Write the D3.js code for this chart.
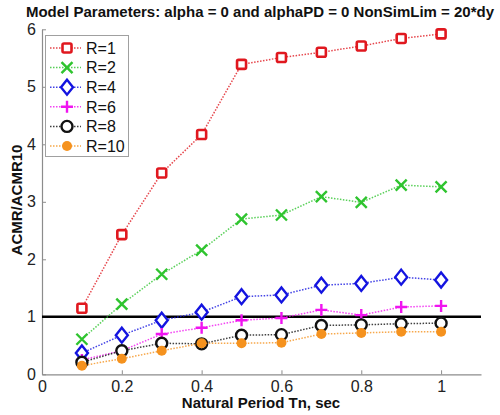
<!DOCTYPE html>
<html>
<head>
<meta charset="utf-8">
<script src="https://cdn.jsdelivr.net/npm/d3@7"></script>
<style>
  html, body { margin: 0; padding: 0; background: #fff; }
  svg { display: block; font-family: "Liberation Sans", Arial, sans-serif; }
</style>
</head>
<body>
<svg id="chart" width="500" height="415"></svg>
<script>
// Natural periods (sec)
const periods = [0.1, 0.2, 0.3, 0.4, 0.5, 0.6, 0.7, 0.8, 0.9, 1.0];

// ACMR / ACMR10 ratio for each R factor
const r1  = [1.15, 2.43, 3.50, 4.17, 5.39, 5.51, 5.60, 5.71, 5.84, 5.92];
const r2  = [0.61, 1.22, 1.74, 2.16, 2.70, 2.77, 3.09, 2.99, 3.29, 3.26];
const r4  = [0.37, 0.68, 0.94, 1.08, 1.35, 1.38, 1.55, 1.58, 1.69, 1.64];
const r6  = [0.25, 0.41, 0.70, 0.81, 0.94, 0.98, 1.12, 1.03, 1.17, 1.19];
const r8  = [0.21, 0.41, 0.54, 0.53, 0.68, 0.69, 0.85, 0.86, 0.88, 0.89];
const r10 = [0.15, 0.27, 0.41, 0.54, 0.54, 0.55, 0.70, 0.72, 0.74, 0.74];

const seriesNames = ["R=1", "R=2", "R=4", "R=6", "R=8", "R=10"];
const seriesValues = [r1, r2, r4, r6, r8, r10];

const xTicks = [0, 0.2, 0.4, 0.6, 0.8, 1];
const yTicks = [0, 1, 2, 3, 4, 5, 6];
const referenceLevel = 1;

const colors  = ["#e0181f", "#2fc42f", "#1414e0", "#f014f0", "#111111", "#f5921e"];
const markers = ["square", "cross", "diamond", "plus", "circle", "dot"];

const svg = d3.select("#chart");
const x = d3.scaleLinear().domain([0, 1.1]).range([42, 481]);
const y = d3.scaleLinear().domain([0, 6]).range([374.3, 29.3]);

// Axes (ticks pointing inward)
const axisColor = "#8c8c8c";
const fmt = d3.format("~g");
const gx = svg.append("g").attr("transform", `translate(0,${y(0)})`)
  .call(d3.axisBottom(x).tickValues(xTicks).tickSizeInner(-4).tickSizeOuter(0).tickFormat(fmt));
const gy = svg.append("g").attr("transform", `translate(${x(0)},0)`)
  .call(d3.axisLeft(y).tickValues(yTicks).tickSizeInner(-4).tickSizeOuter(0).tickFormat(fmt));
[gx, gy].forEach(g => {
  g.select(".domain").attr("stroke", axisColor).attr("stroke-width", 1.2);
  g.selectAll(".tick line").attr("stroke", axisColor);
  g.selectAll(".tick text").attr("fill", "#222").attr("font-size", 16)
    .attr("font-family", "Liberation Sans, Arial, sans-serif");
});
gx.selectAll(".tick text").attr("y", 6);
gy.selectAll(".tick text").attr("x", -6);

// Reference line at ratio = 1
svg.append("line")
  .attr("x1", x(0)).attr("x2", x(1.1))
  .attr("y1", y(referenceLevel)).attr("y2", y(referenceLevel))
  .attr("stroke", "#000").attr("stroke-width", 2.5);

// Marker drawing
function drawMarker(g, type, color) {
  switch (type) {
    case "square":
      g.append("rect").attr("x", -4.5).attr("y", -4.5).attr("width", 9).attr("height", 9)
        .attr("rx", 1.5).attr("fill", "#fff").attr("stroke", color).attr("stroke-width", 2.6);
      break;
    case "cross":
      g.append("path").attr("d", "M-5.5,-5.5L5.5,5.5M-5.5,5.5L5.5,-5.5")
        .attr("stroke", color).attr("stroke-width", 2.4).attr("fill", "none");
      break;
    case "diamond":
      g.append("path").attr("d", "M0,-7.5L6,0L0,7.5L-6,0Z")
        .attr("fill", "#fff").attr("stroke", color).attr("stroke-width", 2.4);
      break;
    case "plus":
      g.append("path").attr("d", "M-6,0L6,0M0,-6L0,6")
        .attr("stroke", color).attr("stroke-width", 2.4).attr("fill", "none");
      break;
    case "circle":
      g.append("circle").attr("r", 5.5).attr("fill", "#fff")
        .attr("stroke", color).attr("stroke-width", 2.4);
      break;
    case "dot":
      g.append("circle").attr("r", 5).attr("fill", color);
      break;
  }
}

const line = d3.line().x((d, i) => x(periods[i])).y(d => y(d));

seriesValues.forEach((vals, s) => {
  const g = svg.append("g").attr("class", "series");
  g.append("path").datum(vals).attr("d", line)
    .attr("fill", "none").attr("stroke", colors[s]).attr("stroke-width", 1.5)
    .attr("stroke-dasharray", "1.5,1.5").attr("opacity", 0.8);
  vals.forEach((v, i) => {
    const m = g.append("g").attr("transform", `translate(${x(periods[i])},${y(v)})`);
    drawMarker(m, markers[s], colors[s]);
  });
});

// Legend
const legend = svg.append("g");
legend.append("rect").attr("x", 45.5).attr("y", 35.5).attr("width", 83).attr("height", 121)
  .attr("fill", "#fff").attr("stroke", "#a0a0a0").attr("stroke-width", 1);
seriesNames.forEach((name, s) => {
  const cy = 48 + s * 19.6;
  legend.append("line").attr("x1", 50).attr("x2", 81).attr("y1", cy).attr("y2", cy)
    .attr("stroke", colors[s]).attr("stroke-width", 1.5).attr("stroke-dasharray", "1.5,1.5")
    .attr("opacity", 0.8);
  drawMarker(legend.append("g").attr("transform", `translate(67,${cy})`), markers[s], colors[s]);
  legend.append("text").attr("x", 86).attr("y", cy).attr("dy", "0.36em")
    .attr("font-size", 16).attr("fill", "#111").text(name);
});

// Title and axis labels
svg.append("text").attr("x", 260).attr("y", 17).attr("text-anchor", "middle")
  .attr("font-size", 15).attr("font-weight", "bold").attr("fill", "#111")
  .text("Model Parameters: alpha = 0 and alphaPD = 0 NonSimLim = 20*dy");
svg.append("text").attr("x", 261).attr("y", 408).attr("text-anchor", "middle")
  .attr("font-size", 15).attr("font-weight", "bold").attr("fill", "#111")
  .text("Natural Period Tn, sec");
svg.append("text").attr("transform", "translate(22,200) rotate(-90)").attr("text-anchor", "middle")
  .attr("font-size", 15).attr("font-weight", "bold").attr("fill", "#111")
  .text("ACMR/ACMR10");
</script>
</body>
</html>
